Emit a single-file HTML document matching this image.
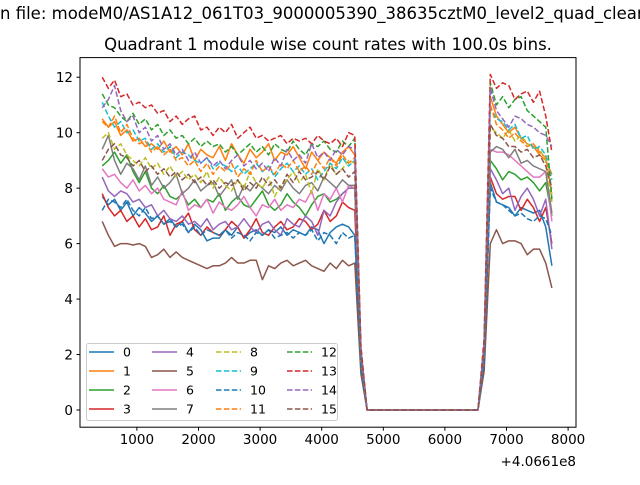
<!DOCTYPE html>
<html><head><meta charset="utf-8"><style>
body{margin:0;background:#fff;width:640px;height:480px;overflow:hidden}
svg{font-family:"DejaVu Sans","Liberation Sans",sans-serif}
</style></head><body>
<svg id="chart" width="640" height="480" xmlns="http://www.w3.org/2000/svg">
<text x="0" y="19" font-size="16.5" fill="#000">n file: modeM0/AS1A12_061T03_9000005390_38635cztM0_level2_quad_clean.evt</text>
<text x="328" y="50" font-size="16.5" text-anchor="middle" fill="#000">Quadrant 1 module wise count rates with 100.0s bins.</text>
<g id="plot"></g>
<rect x="80" y="57.6" width="496" height="369.6" fill="none" stroke="#000" stroke-width="1"/>
<g id="axes"></g>
<text x="576" y="466" font-size="13.5" text-anchor="end">+4.0661e8</text>
<g id="legend"></g>
</svg>
<script>
const NS="http://www.w3.org/2000/svg";
const xStart=437, xStep=100;
const xTicks=[1000,2000,3000,4000,5000,6000,7000,8000];
const yTicks=[0,2,4,6,8,10,12];
const seriesNames=["0","1","2","3","4","5","6","7","8","9","10","11","12","13","14","15"];
const pre0=[7.7,7.4,7.6,7.2,7.5,7.0,7.3,7.1,6.8,7.0,6.7,6.9,6.6,6.8,6.4,6.7,6.5,6.1,6.2,6.2,6.5,6.3,6.6,6.2,6.4,6.5,6.3,6.5,6.4,6.6,6.3,6.5,6.4,6.3,6.6,6.5,6.0,6.4,6.6,6.7,6.6,6.3];
const pre1=[10.5,10.2,10.4,9.9,10.1,9.7,9.8,9.5,9.6,9.4,9.7,9.3,9.5,9.2,9.6,9.0,9.4,9.2,9.1,9.5,9.0,9.6,9.2,8.9,9.4,9.1,9.3,9.6,9.0,9.3,9.2,9.5,9.1,8.7,9.3,9.0,9.3,9.1,8.9,9.3,9.5,9.2];
const pre2=[8.8,9.0,9.3,8.9,9.2,8.6,8.2,8.6,8.0,7.8,8.1,7.7,7.6,7.8,7.4,7.6,7.3,7.6,7.5,7.8,7.2,7.5,7.7,7.4,7.3,7.6,7.9,7.4,7.2,7.4,7.8,7.5,7.3,7.0,7.4,7.7,7.8,7.5,7.6,7.8,8.0,8.0];
const pre3=[7.8,7.3,7.0,7.2,6.8,7.0,6.6,6.9,6.5,6.6,7.0,6.3,6.7,6.8,7.1,6.5,6.3,6.6,6.4,6.3,6.5,6.8,6.6,6.2,6.5,6.9,6.4,6.3,6.6,6.8,6.5,6.6,6.9,6.8,6.5,6.7,7.2,6.8,7.0,7.5,7.3,7.2];
const pre4=[8.4,7.9,7.7,7.9,7.8,7.5,7.6,7.3,7.4,7.0,7.2,6.9,6.8,7.0,6.7,6.8,6.6,6.9,6.5,6.7,6.8,6.5,6.6,6.9,6.6,6.4,6.7,6.8,6.5,6.3,6.9,6.7,6.6,7.0,6.8,6.3,7.2,7.0,7.5,7.8,8.0,8.0];
const pre5=[6.8,6.3,5.9,6.0,6.0,5.95,6.0,5.9,5.5,5.6,5.8,5.5,5.7,5.5,5.4,5.3,5.2,5.1,5.2,5.2,5.3,5.5,5.3,5.3,5.4,5.4,4.7,5.2,5.1,5.3,5.4,5.2,5.3,5.4,5.2,5.1,5.0,5.3,5.1,5.4,5.2,5.3];
const pre6=[8.7,8.4,8.5,8.2,8.0,8.3,7.9,8.1,7.8,8.0,7.6,7.5,7.4,7.9,7.2,7.4,7.3,7.6,7.1,7.5,7.3,7.2,7.4,7.7,7.3,7.0,7.4,7.3,7.6,7.2,7.4,7.3,7.6,7.5,7.9,7.2,7.8,7.6,8.0,7.5,8.1,8.0];
const pre7=[9.4,9.9,9.0,8.5,8.9,8.7,8.3,8.8,8.1,8.4,8.0,8.2,8.5,7.8,8.0,8.3,7.9,8.1,8.2,7.7,8.0,8.3,7.6,8.1,7.9,8.2,8.0,7.8,8.1,7.9,8.3,8.0,7.8,8.1,8.2,7.9,8.4,8.2,8.0,8.3,8.1,8.1];
const pre8=[9.8,10.0,9.4,9.6,9.2,9.0,8.8,9.1,8.7,8.9,8.5,8.8,8.4,8.6,8.3,8.5,8.2,8.6,8.0,8.4,8.1,7.9,8.3,8.0,8.6,8.2,8.0,8.4,7.7,8.1,8.3,8.6,8.2,8.5,7.8,8.7,8.3,8.9,8.5,8.7,9.0,8.9];
const pre9=[11.1,10.6,10.2,10.4,10.0,10.1,9.7,9.8,9.4,9.6,9.3,9.5,9.1,9.3,9.2,9.0,8.9,9.1,8.7,8.9,8.8,8.6,8.8,8.5,8.7,8.9,8.6,8.8,8.4,8.7,8.9,8.6,8.8,8.5,8.7,8.3,8.6,8.9,8.7,9.1,8.8,9.0];
const pre10=[7.2,7.6,7.5,7.3,7.6,7.2,7.0,7.3,6.9,7.0,6.7,6.8,6.6,6.7,6.4,6.6,6.3,6.5,6.4,6.3,6.5,6.2,6.4,6.3,6.1,6.4,6.3,6.5,6.2,6.3,6.4,6.2,6.4,6.3,6.5,6.1,6.4,6.3,6.0,6.4,6.2,6.3];
const pre11=[10.4,10.2,10.6,10.0,10.3,9.8,9.6,9.7,9.3,9.5,9.2,9.4,9.0,9.1,8.8,9.0,8.6,8.9,8.5,8.8,8.6,8.9,8.4,8.7,8.5,9.0,8.6,8.8,8.5,8.9,8.7,9.0,8.6,8.8,8.5,9.0,8.7,9.1,8.8,9.2,8.9,9.1];
const pre12=[11.4,11.0,10.9,10.6,10.4,10.7,10.3,10.5,10.1,10.3,9.9,10.1,9.8,9.9,9.6,9.8,9.5,9.7,9.5,9.6,9.3,9.5,9.2,9.4,9.6,9.3,9.5,9.2,9.6,9.4,9.3,9.7,9.4,9.2,9.6,9.5,9.7,9.4,9.3,9.7,9.5,9.8];
const pre13=[12.0,11.6,11.9,11.3,11.4,11.0,11.1,10.9,11.0,10.7,10.8,10.4,10.6,10.3,10.5,10.6,10.1,10.2,9.9,10.2,10.0,10.3,9.8,10.0,10.2,9.8,9.9,9.7,9.8,9.9,9.6,9.8,9.7,9.8,9.6,9.9,9.7,9.6,9.8,9.5,10.0,9.9];
const pre14=[10.9,11.2,11.7,10.8,10.4,10.6,10.0,10.2,9.7,9.9,9.4,9.6,9.2,9.4,9.0,9.3,8.9,9.1,8.8,9.0,8.7,9.0,9.2,8.8,9.0,8.7,8.9,8.6,9.1,8.8,9.4,9.0,9.2,8.9,9.6,9.1,9.3,9.0,9.4,9.2,9.5,9.4];
const pre15=[9.0,9.4,9.6,9.2,9.1,8.8,9.0,8.6,8.8,8.5,8.7,8.4,8.6,8.3,8.5,8.2,8.4,8.1,8.3,8.0,8.2,8.1,8.3,7.9,8.2,8.0,8.4,8.1,8.3,8.0,8.5,8.2,8.6,8.3,8.4,8.6,8.3,8.8,8.5,8.7,8.4,8.6];
const dropVals=[1.6,2.1,1.8,1.7,1.8,1.3,1.8,1.9,2.0,2.0,1.5,2.1,2.2,2.3,2.1,2.0];
const gapVals=[0,0,0,0,0,0,0,0,0,0,0,0,0,0,0,0,0,0,0];
const riseVals=[1.7,2.3,2.0,1.8,1.9,1.4,2.0,2.0,2.2,2.3,1.7,2.3,2.4,2.6,2.4,2.2];
const post0=[8.2,7.5,7.4,7.3,7.0,7.3,7.2,7.1,7.2,6.6,5.2];
const post1=[11.3,10.6,10.3,10.0,10.2,9.8,9.6,9.5,9.2,9.0,8.5];
const post2=[9.0,8.7,8.3,8.6,8.5,8.3,8.4,8.2,7.9,8.2,7.0];
const post3=[8.4,7.8,7.6,7.7,7.7,7.2,7.6,7.3,6.8,7.3,6.0];
const post4=[8.7,8.3,7.8,8.0,7.2,7.7,8.0,7.6,7.0,7.6,5.8];
const post5=[6.0,6.5,6.0,6.1,6.1,6.0,5.6,5.8,5.8,5.3,4.4];
const post6=[9.4,9.3,9.3,9.2,9.0,8.8,8.6,8.4,8.4,8.6,6.8];
const post7=[9.3,9.5,9.4,9.1,9.4,8.9,9.0,8.8,8.7,8.6,7.1];
const post8=[10.2,10.0,9.8,10.1,9.7,9.9,9.6,9.5,9.4,9.0,7.5];
const post9=[10.9,10.5,10.4,10.1,10.3,9.8,9.9,9.4,9.5,9.2,8.3];
const post10=[8.0,7.5,7.4,7.2,7.0,7.1,6.9,6.8,7.0,6.9,6.3];
const post11=[11.0,10.3,10.1,9.8,10.0,9.7,9.5,9.6,9.3,9.1,7.8];
const post12=[11.8,11.0,11.3,10.9,11.2,11.3,10.8,10.6,10.4,10.2,7.6];
const post13=[12.1,11.6,11.8,11.7,11.2,11.4,11.5,11.1,11.5,10.6,9.3];
const post14=[11.6,10.8,10.5,10.2,10.6,10.5,10.3,10.2,10.0,9.9,9.5];
const post15=[10.3,9.9,9.8,9.5,9.5,9.3,9.4,9.1,9.2,8.8,8.0];
const preAll=[pre0,pre1,pre2,pre3,pre4,pre5,pre6,pre7,pre8,pre9,pre10,pre11,pre12,pre13,pre14,pre15];
const postAll=[post0,post1,post2,post3,post4,post5,post6,post7,post8,post9,post10,post11,post12,post13,post14,post15];
const colors=["#1f77b4","#ff7f0e","#2ca02c","#d62728","#9467bd","#8c564b","#e377c2","#7f7f7f","#bcbd22","#17becf"];
function xs(v){return 75.3+v*0.0616;}
function ys(v){return 410-v*27.73;}
const plot=document.getElementById('plot');
for(let s=0;s<16;s++){
  const vals=[].concat(preAll[s],[dropVals[s]],gapVals,[riseVals[s]],postAll[s]);
  const pts=vals.map((v,i)=>xs(xStart+i*xStep).toFixed(2)+","+ys(v).toFixed(2)).join(" ");
  const pl=document.createElementNS(NS,'polyline');
  
  
  pl.setAttribute('points',pts);
  pl.setAttribute('fill','none');
  pl.setAttribute('stroke',colors[s%10]);
  pl.setAttribute('stroke-width','1.5');
  pl.setAttribute('stroke-linejoin','round');
  if(s>=8)pl.setAttribute('stroke-dasharray','5.5,2.4');
  plot.appendChild(pl);
}
const axes=document.getElementById('axes');
xTicks.forEach(t=>{
  const x=xs(t);
  const l=document.createElementNS(NS,'line');
  
  
  l.setAttribute('x1',x);l.setAttribute('x2',x);l.setAttribute('y1',427.2);l.setAttribute('y2',430.7);
  l.setAttribute('stroke','#000');
  axes.appendChild(l);
  const tx=document.createElementNS(NS,'text');
  
  
  tx.setAttribute('x',x);tx.setAttribute('y',444);tx.setAttribute('font-size','13.5');tx.setAttribute('text-anchor','middle');
  tx.textContent=t;
  axes.appendChild(tx);
});
yTicks.forEach(t=>{
  const y=ys(t);
  const l=document.createElementNS(NS,'line');
  
  
  l.setAttribute('x1',76.5);l.setAttribute('x2',80);l.setAttribute('y1',y);l.setAttribute('y2',y);
  l.setAttribute('stroke','#000');
  axes.appendChild(l);
  const tx=document.createElementNS(NS,'text');
  
  
  tx.setAttribute('x',73);tx.setAttribute('y',y+5);tx.setAttribute('font-size','13.5');tx.setAttribute('text-anchor','end');
  tx.textContent=t;
  axes.appendChild(tx);
});
const lg=document.getElementById('legend');
const box=document.createElementNS(NS,'rect');


box.setAttribute('x',86.5);box.setAttribute('y',343.5);box.setAttribute('width',251);box.setAttribute('height',77);box.setAttribute('rx',2);
box.setAttribute('fill','#fff');box.setAttribute('fill-opacity','0.8');box.setAttribute('stroke','#ccc');
lg.appendChild(box);
const colX=[89,152,216,287];
for(let s=0;s<16;s++){
  const c=Math.floor(s/4), r=s%4;
  const y=352+r*19;
  const l=document.createElementNS(NS,'line');
  
  
  l.setAttribute('x1',colX[c]);l.setAttribute('x2',colX[c]+25);l.setAttribute('y1',y);l.setAttribute('y2',y);
  l.setAttribute('stroke',colors[s%10]);l.setAttribute('stroke-width','1.5');
  if(s>=8)l.setAttribute('stroke-dasharray','5.5,2.4');
  lg.appendChild(l);
  const tx=document.createElementNS(NS,'text');
  
  
  tx.setAttribute('x',colX[c]+34);tx.setAttribute('y',y+4.5);tx.setAttribute('font-size','12.5');
  tx.textContent=seriesNames[s];
  lg.appendChild(tx);
}
</script>
</body></html>
